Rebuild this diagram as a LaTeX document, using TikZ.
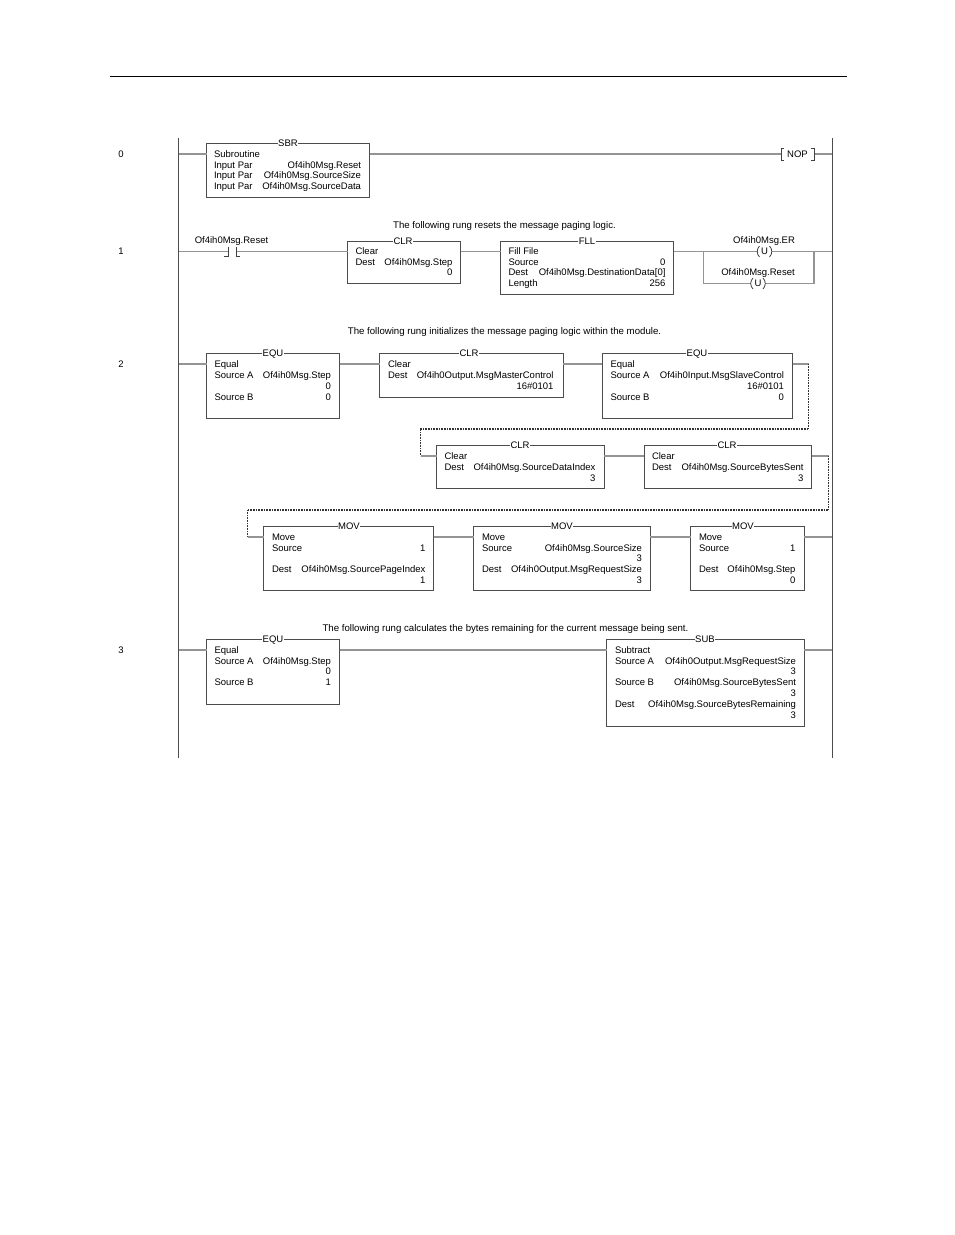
\documentclass[tikz,border=0pt]{standalone}
\usepackage{fontspec}
\setmainfont{Liberation Sans}
\newcounter{tn}
\definecolor{wirec}{gray}{0.58}
\definecolor{boxc}{gray}{0.3}
\tikzset{
  tx/.style={inner sep=0pt,outer sep=0pt,text height=7pt,text depth=0.2pt,font=\fontsize{9.5}{10}\selectfont,text=black},
  note/.style={tx,font=\fontsize{9.65}{10}\selectfont},
  ladderbox/.style={draw=boxc,line width=1pt,inner sep=0pt,outer sep=0pt,anchor=north west},
  boxtitle/.style={tx,fill=white,inner xsep=0.4pt},
  wire/.style={draw=wirec,line width=1.1pt},
  linkwire/.style={draw=black!80,line width=1.1pt,dash pattern=on 0.9pt off 0.7pt},
  rail/.style={draw=boxc,line width=1pt},
  instr/.style={draw=black!75,line width=0.8pt},
  coil/.style={tx,fill=white,minimum width=14pt,minimum height=11pt}
}
\newcommand{\TL}[3]{\stepcounter{tn}\node[tx,anchor=west] (t\arabic{tn}) at (#1,#2) {#3};}
\newcommand{\TR}[3]{\stepcounter{tn}\node[tx,anchor=east] (t\arabic{tn}) at (#1,#2) {#3};}
\newcommand{\TC}[3]{\stepcounter{tn}\node[tx] (t\arabic{tn}) at (#1,#2) {#3};}
\newcommand{\TN}[3]{\stepcounter{tn}\node[note] (t\arabic{tn}) at (#1,#2) {#3};}
% name, x0, y0, x1, y1, title, title x
\newcommand{\LBox}[7]{%
  \node[ladderbox,minimum width={(#4-#2)*1pt},minimum height={(#5-#3)*1pt}] (#1) at (#2,#3) {};
  \coordinate (#1-i) at (#2,#3+10.5);
  \coordinate (#1-o) at (#4,#3+10.5);
  \node[boxtitle] (#1-t) at (#7,#3) {#6};
}
\begin{document}
\begin{tikzpicture}[x=1pt,y=-1pt]
\useasboundingbox (0,0) rectangle (954,1235);
\coordinate (ruleL) at (110,76);
\coordinate (ruleR) at (847,76);
\draw[black,line width=1pt] (ruleL) -- (ruleR);
% rails
\coordinate (railLt) at (178,138);
\coordinate (railLb) at (178,758);
\coordinate (railRt) at (832,138);
\coordinate (railRb) at (832,758);
% rung numbers
\TC{121}{154}{0}
\TC{121}{251}{1}
\TC{121}{364}{2}
\TC{121}{650}{3}
% comments
\TN{504.5}{225}{The following rung resets the message paging logic.}
\TN{504.5}{331}{The following rung initializes the message paging logic within the module.}
\TN{505.5}{628}{The following rung calculates the bytes remaining for the current message being sent.}
% rung 0
\coordinate (l0) at (178,154);
\coordinate (r0) at (832,154);
\LBox{sbr}{206.5}{143.5}{369.5}{197.5}{SBR}{288}
\TL{214}{154}{Subroutine}
\TL{214}{165}{Input Par}
\TL{214}{175.5}{Input Par}
\TL{214}{186}{Input Par}
\TR{361}{165}{Of4ih0Msg.Reset}
\TR{361}{175.5}{Of4ih0Msg.SourceSize}
\TR{361}{186}{Of4ih0Msg.SourceData}
\node[tx,fill=white,minimum width=33pt,minimum height=12pt] (nop) at (797.5,154) {NOP};
\draw[wire] (l0) -- (sbr-i) (sbr-o) -- (nop.west) (nop.east) -- (r0);
\draw[instr] ([xshift=3pt]nop.north west) -- (nop.north west) -- (nop.south west) -- ([xshift=3pt]nop.south west);
\draw[instr] ([xshift=-3pt]nop.north east) -- (nop.north east) -- (nop.south east) -- ([xshift=-3pt]nop.south east);
% rung 1
\coordinate (l1) at (178,251.5);
\coordinate (r1) at (832,251.5);
\node[inner sep=0pt,outer sep=0pt,minimum width=8pt,minimum height=10pt] (contact) at (232,251.7) {};
\TC{231.5}{240}{Of4ih0Msg.Reset}
\LBox{clra}{347.5}{241}{460.5}{283.5}{CLR}{403}
\TL{355.5}{251.5}{Clear}
\TL{355.5}{262}{Dest}
\TR{452.5}{262}{Of4ih0Msg.Step}
\TR{452.5}{272.5}{0}
\LBox{fll}{500.5}{241}{673.5}{294}{FLL}{587}
\TL{508.5}{251.5}{Fill File}
\TL{508.5}{262}{Source}
\TL{508.5}{272.5}{Dest}
\TL{508.5}{283}{Length}
\TR{665.5}{262}{0}
\TR{665.5}{272.5}{Of4ih0Msg.DestinationData[0]}
\TR{665.5}{283}{256}
\coordinate (brL) at (703.5,251.5);
\coordinate (brR) at (814,251.5);
\coordinate (brLb) at (703.5,283.5);
\coordinate (brRb) at (814,283.5);
\node[coil] (coilA) at (764.5,251.5) {U};
\node[coil] (coilB) at (758,283.5) {U};
\TC{764}{240}{Of4ih0Msg.ER}
\TC{758}{272}{Of4ih0Msg.Reset}
\draw[wire] (l1) -- (contact.west |- l1) (contact.east |- l1) -- (clra-i) (clra-o) -- (fll-i) (fll-o) -- (brL) -- (coilA.west) (coilA.east) -- (brR) -- (r1);
\draw[wire] (brL) -- (brLb) -- (coilB.west) (coilB.east) -- (brRb) -- (brR);
\draw[instr] ([xshift=-4pt]contact.south west) -- (contact.south west) -- (contact.north west);
\draw[instr] ([xshift=4pt]contact.south east) -- (contact.south east) -- (contact.north east);
\foreach \c in {coilA,coilB}{
  \draw[instr] ([xshift=2pt]\c.north west) to[bend right=45] ([xshift=2pt]\c.south west);
  \draw[instr] ([xshift=-2pt]\c.north east) to[bend left=45] ([xshift=-2pt]\c.south east);
}
% rung 2, first row
\coordinate (l2) at (178,364);
\LBox{equa}{206.5}{353.5}{339.5}{418}{EQU}{273}
\TL{214.5}{364.5}{Equal}
\TL{214.5}{375}{Source A}
\TL{214.5}{397}{Source B}
\TR{331}{375}{Of4ih0Msg.Step}
\TR{331}{386}{0}
\TR{331}{397}{0}
\LBox{clrb}{379.5}{353.5}{563}{397}{CLR}{469}
\TL{388}{364.5}{Clear}
\TL{388}{375}{Dest}
\TR{553.5}{375}{Of4ih0Output.MsgMasterControl}
\TR{553.5}{386}{16\#0101}
\LBox{equb}{602}{353.5}{792.5}{418.5}{EQU}{697}
\TL{610.5}{364.5}{Equal}
\TL{610.5}{375}{Source A}
\TL{610.5}{397}{Source B}
\TR{784}{375}{Of4ih0Input.MsgSlaveControl}
\TR{784}{386}{16\#0101}
\TR{784}{397}{0}
% rung 2, second row
\LBox{clrc}{436.5}{445.5}{604}{488}{CLR}{520}
\TL{444.5}{456}{Clear}
\TL{444.5}{467}{Dest}
\TR{595.5}{467}{Of4ih0Msg.SourceDataIndex}
\TR{595.5}{478}{3}
\LBox{clrd}{644}{445.5}{811.5}{488}{CLR}{727}
\TL{652}{456}{Clear}
\TL{652}{467}{Dest}
\TR{803.5}{467}{Of4ih0Msg.SourceBytesSent}
\TR{803.5}{478}{3}
% rung 2, third row
\LBox{mova}{263.5}{526.5}{433.5}{590.5}{MOV}{349}
\TL{272}{537}{Move}
\TL{272}{548}{Source}
\TL{272}{569}{Dest}
\TR{425.5}{548}{1}
\TR{425.5}{569}{Of4ih0Msg.SourcePageIndex}
\TR{425.5}{580}{1}
\LBox{movb}{473.5}{526.5}{650}{590.5}{MOV}{562}
\TL{482}{537}{Move}
\TL{482}{548}{Source}
\TL{482}{569}{Dest}
\TR{642}{548}{Of4ih0Msg.SourceSize}
\TR{642}{558.5}{3}
\TR{642}{569}{Of4ih0Output.MsgRequestSize}
\TR{642}{580}{3}
\LBox{movc}{690.5}{526.5}{804}{590.5}{MOV}{743}
\TL{699}{537}{Move}
\TL{699}{548}{Source}
\TL{699}{569}{Dest}
\TR{795.5}{548}{1}
\TR{795.5}{569}{Of4ih0Msg.Step}
\TR{795.5}{580}{0}
\coordinate (r2) at (832,537);
% wires rung 2
\coordinate (wa1) at (808.5,364);
\coordinate (wa2) at (808.5,429);
\coordinate (wa3) at (420.5,429);
\coordinate (wa4) at (420.5,456);
\coordinate (wb1) at (828.5,456);
\coordinate (wb2) at (828.5,510);
\coordinate (wb3) at (247.5,510);
\coordinate (wb4) at (247.5,537);
\draw[wire] (l2) -- (equa-i) (equa-o) -- (clrb-i) (clrb-o) -- (equb-i) (equb-o) -- (wa1);
\draw[linkwire] (wa1) -- (wa2) -- (wa3) -- (wa4);
\draw[wire] (wa4) -- (clrc-i) (clrc-o) -- (clrd-i) (clrd-o) -- (wb1);
\draw[linkwire] (wb1) -- (wb2) -- (wb3) -- (wb4);
\draw[wire] (wb4) -- (mova-i) (mova-o) -- (movb-i) (movb-o) -- (movc-i) (movc-o) -- (r2);
% rung 3
\coordinate (l3) at (178,650);
\coordinate (r3) at (832,650);
\LBox{equc}{206.5}{639.5}{339.5}{704}{EQU}{273}
\TL{214.5}{650}{Equal}
\TL{214.5}{661}{Source A}
\TL{214.5}{682}{Source B}
\TR{331}{661}{Of4ih0Msg.Step}
\TR{331}{671.5}{0}
\TR{331}{682}{1}
\LBox{sub}{606.5}{639.5}{804}{726}{SUB}{705}
\TL{615}{650}{Subtract}
\TL{615}{661}{Source A}
\TL{615}{682}{Source B}
\TL{615}{704}{Dest}
\TR{796}{661}{Of4ih0Output.MsgRequestSize}
\TR{796}{671.5}{3}
\TR{796}{682}{Of4ih0Msg.SourceBytesSent}
\TR{796}{693}{3}
\TR{796}{704}{Of4ih0Msg.SourceBytesRemaining}
\TR{796}{715}{3}
\draw[wire] (l3) -- (equc-i) (equc-o) -- (sub-i) (sub-o) -- (r3);
% rails on top
\draw[rail] (railLt) -- (railLb);
\draw[rail] (railRt) -- (railRb);
\end{tikzpicture}
\end{document}
